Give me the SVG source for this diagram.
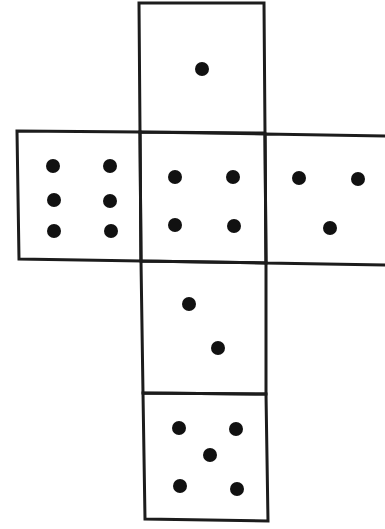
<svg xmlns="http://www.w3.org/2000/svg" width="385" height="529" viewBox="0 0 385 529">
<style>
.face{fill:none;stroke:#1c1c1c;stroke-width:3;stroke-linejoin:miter}
.pip{fill:#111}
</style>
<rect width="385" height="529" fill="#fff"/>
<g id="face-top">
<path class="face" d="M139,3 L264,3 L265,133 L140,132 Z"/>
<circle class="pip" cx="202" cy="69" r="7"/>
</g>
<g id="face-left">
<path class="face" d="M17,131 L140,132 L141,261 L19,259 Z"/>
<circle class="pip" cx="53" cy="166" r="7"/>
<circle class="pip" cx="110" cy="166" r="7"/>
<circle class="pip" cx="54" cy="200" r="7"/>
<circle class="pip" cx="110" cy="201" r="7"/>
<circle class="pip" cx="54" cy="231" r="7"/>
<circle class="pip" cx="111" cy="231" r="7"/>
</g>
<g id="face-center">
<path class="face" d="M140,132 L265,134 L266,263 L141,261 Z"/>
<circle class="pip" cx="175" cy="177" r="7"/>
<circle class="pip" cx="233" cy="177" r="7"/>
<circle class="pip" cx="175" cy="225" r="7"/>
<circle class="pip" cx="234" cy="226" r="7"/>
</g>
<g id="face-right">
<path class="face" d="M388,136 L265,134 L266,263 L388,265"/>
<circle class="pip" cx="299" cy="178" r="7"/>
<circle class="pip" cx="358" cy="179" r="7"/>
<circle class="pip" cx="330" cy="228" r="7"/>
</g>
<g id="face-lower">
<path class="face" d="M141,261 L266,263 L266,394 L143,393 Z"/>
<circle class="pip" cx="189" cy="304" r="7"/>
<circle class="pip" cx="218" cy="348" r="7"/>
</g>
<g id="face-bottom">
<path class="face" d="M143,393 L266,394 L268,521 L145,519 Z"/>
<circle class="pip" cx="179" cy="428" r="7"/>
<circle class="pip" cx="236" cy="429" r="7"/>
<circle class="pip" cx="210" cy="455" r="7"/>
<circle class="pip" cx="180" cy="486" r="7"/>
<circle class="pip" cx="237" cy="489" r="7"/>
</g>
<g id="connectors"></g>
</svg>
